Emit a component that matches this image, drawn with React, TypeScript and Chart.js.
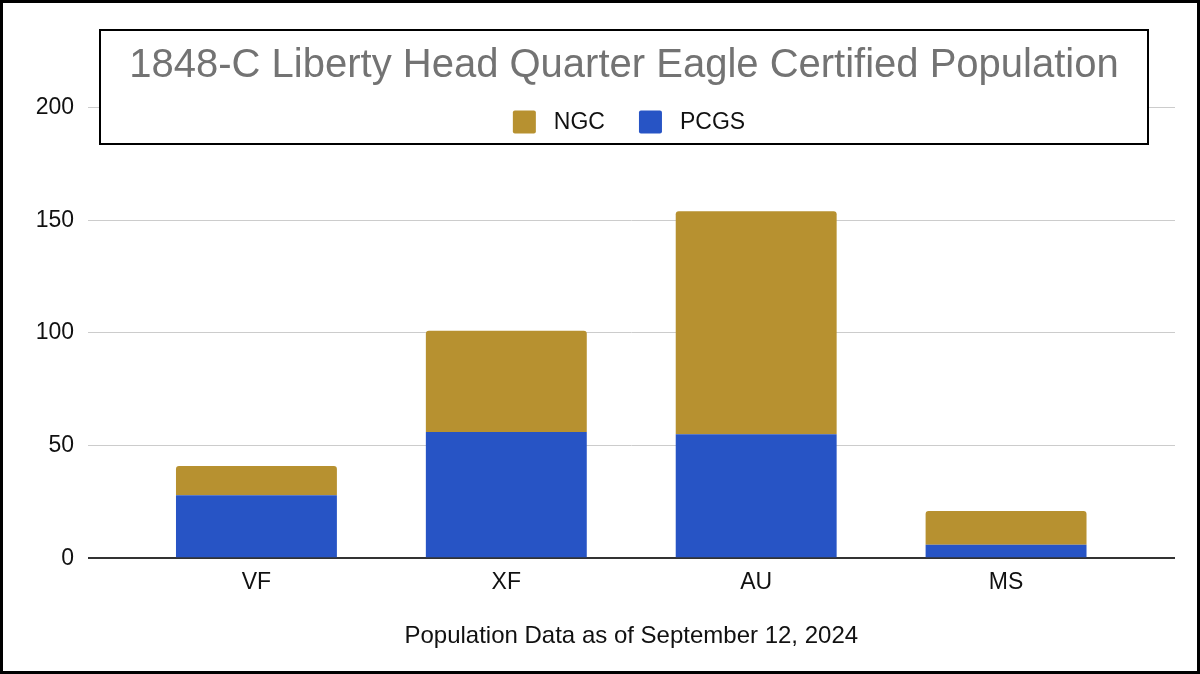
import React, { useEffect, useRef } from "react";
import { Chart, registerables } from "chart.js";

Chart.register(...registerables);

// ---- Data ----
const categories = ["VF", "XF", "AU", "MS"];
const seriesNames = ["NGC", "PCGS"];
const ngcValues = [13, 45, 99, 15];
const pcgsValues = [28, 56, 55, 6];
const yTickValues = [0, 50, 100, 150, 200];
const chartTitle = "1848-C Liberty Head Quarter Eagle Certified Population";
const xAxisTitle = "Population Data as of September 12, 2024";

const FONT = "'Liberation Sans', Arial, Helvetica, sans-serif";
const NGC_COLOR = "#B79130";
const PCGS_COLOR = "#2754C5";

const gridColor = (c: any) => (c.tick && c.tick.value === 0 ? "#333333" : "#cccccc");
const gridWidth = (c: any) => (c.tick && c.tick.value === 0 ? 2 : 1);

const titleBoxPlugin = {
  id: "titleBox",
  afterDraw(chart: any) {
    const ctx = chart.ctx as CanvasRenderingContext2D;
    ctx.save();
    // box
    ctx.fillStyle = "#ffffff";
    ctx.fillRect(100, 30, 1048, 114);
    ctx.lineWidth = 2;
    ctx.strokeStyle = "#000000";
    ctx.strokeRect(100, 30, 1048, 114);
    // title
    ctx.font = `40px ${FONT}`;
    ctx.fillStyle = "#737373";
    ctx.textAlign = "center";
    ctx.textBaseline = "alphabetic";
    ctx.fillText(chartTitle, 624, 77);
    // legend
    ctx.font = `23px ${FONT}`;
    const sq = 23;
    const gapText = 18;
    const gapItem = 34;
    const items = chart.data.datasets.map((ds: any) => ({
      label: ds.label,
      color: ds.backgroundColor,
      w: ctx.measureText(ds.label).width,
    }));
    const total =
      items.reduce((s: number, it: any) => s + sq + gapText + it.w, 0) + gapItem * (items.length - 1);
    let x = 629 - total / 2;
    const cy = 122;
    items.forEach((it: any) => {
      ctx.fillStyle = it.color;
      ctx.beginPath();
      (ctx as any).roundRect(x, cy - sq / 2, sq, sq, 2);
      ctx.fill();
      x += sq + gapText;
      ctx.fillStyle = "#111111";
      ctx.textAlign = "left";
      ctx.textBaseline = "middle";
      ctx.fillText(it.label, x, cy + 1);
      x += it.w + gapItem;
    });
    ctx.restore();
  },
};

export default function App() {
  const canvasRef = useRef<HTMLCanvasElement | null>(null);

  useEffect(() => {
    if (!canvasRef.current) return;
    const yMin = yTickValues[0];
    const yMax = yTickValues[yTickValues.length - 1];
    const step = yTickValues[1] - yTickValues[0];

    const chart = new Chart(canvasRef.current, {
      type: "bar",
      data: {
        labels: categories,
        datasets: [
          {
            label: seriesNames[0],
            data: ngcValues,
            backgroundColor: NGC_COLOR,
            order: 1,
            borderRadius: { topLeft: 3, topRight: 3, bottomLeft: 0, bottomRight: 0 },
            borderSkipped: false,
            yAxisID: "y",
          },
          {
            label: seriesNames[1],
            data: pcgsValues,
            backgroundColor: PCGS_COLOR,
            order: 0,
            yAxisID: "y",
          },
        ],
      },
      options: {
        animation: false,
        responsive: false,
        devicePixelRatio: 1,
        barPercentage: 0.644,
        categoryPercentage: 1,
        layout: { padding: { top: 107.6, left: 0, right: 0, bottom: 0 } },
        plugins: {
          legend: { display: false },
          title: { display: false },
          tooltip: { enabled: false },
        },
        scales: {
          x: {
            type: "category",
            stacked: true,
            grid: { display: false, drawTicks: false },
            border: { display: false },
            ticks: { font: { family: FONT, size: 23 }, color: "#111111", padding: 11 },
            title: {
              display: true,
              text: xAxisTitle,
              font: { family: FONT, size: 24 },
              color: "#111111",
              padding: { top: 0, bottom: 23.6 },
            },
            afterFit: (s: any) => {
              s.height = 674 - 558.3;
            },
          },
          y: {
            type: "linear",
            position: "left",
            stacked: true,
            min: yMin,
            max: yMax,
            ticks: {
              stepSize: step,
              font: { family: FONT, size: 23 },
              color: "#111111",
              padding: 14,
            },
            grid: {
              color: gridColor,
              lineWidth: gridWidth,
              drawTicks: true,
              tickLength: 43.5,
            },
            border: { display: false },
            afterFit: (s: any) => {
              s.width = 131.5;
            },
          },
          y2: {
            type: "linear",
            position: "right",
            display: true,
            min: yMin,
            max: yMax,
            ticks: { display: false, stepSize: step },
            grid: {
              drawOnChartArea: false,
              color: gridColor,
              lineWidth: gridWidth,
              drawTicks: true,
              tickLength: 44,
            },
            border: { display: false },
            afterFit: (s: any) => {
              s.width = 69;
            },
          },
        },
      },
      plugins: [titleBoxPlugin],
    } as any);

    return () => chart.destroy();
  }, []);

  return (
    <div style={{ position: "fixed", left: 0, top: 0, width: 1200, height: 674, background: "#ffffff" }}>
      <canvas
        ref={canvasRef}
        width={1200}
        height={674}
        style={{ position: "absolute", left: 0, top: 0, width: 1200, height: 674 }}
      />
      <div
        style={{
          position: "absolute",
          left: 0,
          top: 0,
          width: 1200,
          height: 674,
          border: "3px solid #000",
          boxSizing: "border-box",
          pointerEvents: "none",
        }}
      />
    </div>
  );
}
